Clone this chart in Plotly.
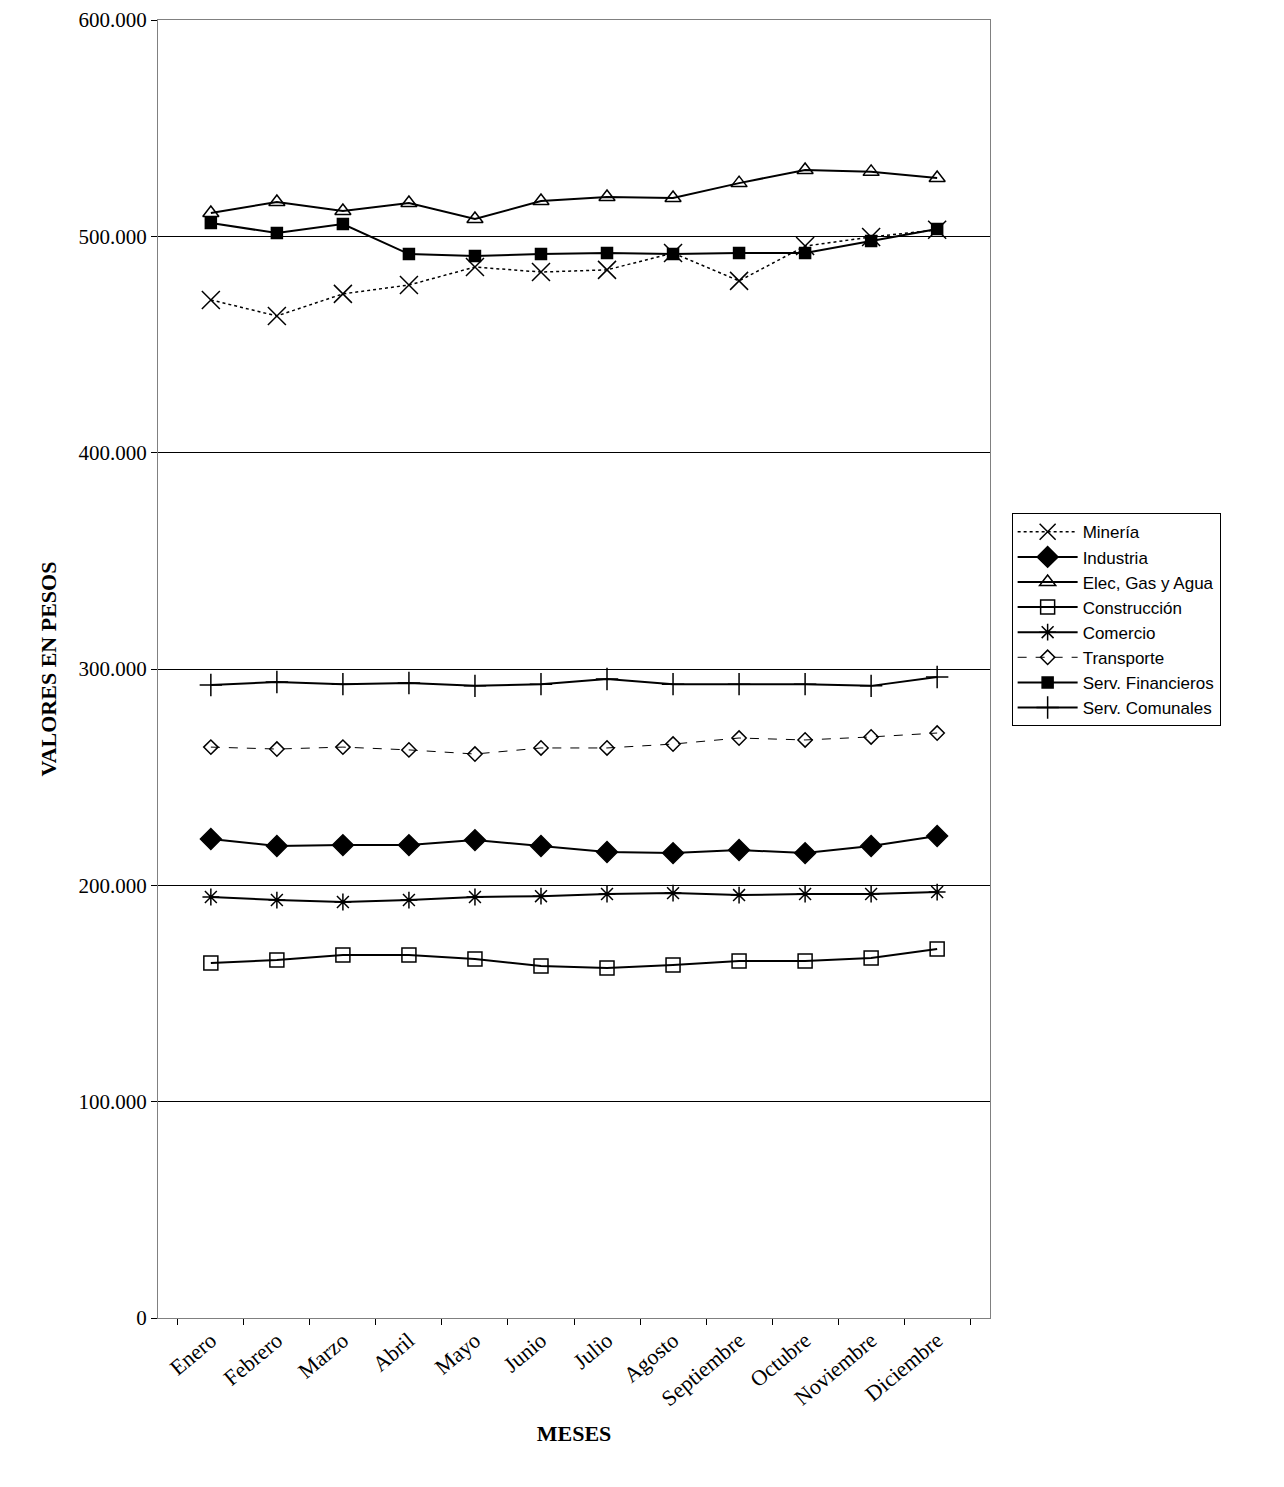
import plotly.graph_objects as go

meses = ["Enero", "Febrero", "Marzo", "Abril", "Mayo", "Junio", "Julio", "Agosto",
         "Septiembre", "Octubre", "Noviembre", "Diciembre"]

mineria = [470600, 463200, 473400, 477500, 485800, 483500, 484500, 492300, 479400, 495500, 499700, 503000]
industria = [221400, 218200, 218600, 218600, 220900, 218200, 215400, 214900, 216300, 214900, 218200, 222800]
elec = [510800, 515900, 511700, 515400, 508000, 516300, 518200, 517700, 524600, 530700, 529800, 527000]
construccion = [164100, 165500, 167800, 167800, 166000, 162700, 161800, 163200, 165000, 165000, 166400, 170600]
comercio = [194600, 193200, 192300, 193200, 194600, 195000, 196000, 196400, 195500, 196000, 196000, 196900]
transporte = [263900, 263000, 263900, 262600, 260700, 263500, 263500, 265300, 268100, 267200, 268600, 270400]
serv_fin = [506200, 501500, 505700, 491800, 490900, 491800, 492300, 491800, 492300, 492300, 497800, 503400]
serv_com = [292600, 294000, 293000, 293500, 292200, 293000, 295400, 293000, 293000, 293000, 292200, 296300]

series = [
    ("Minería", mineria, "x-thin-open", 18, "dot", 1.5),
    ("Industria", industria, "diamond", 16, "solid", 2),
    ("Elec, Gas y Agua", elec, "triangle-up-open", 14, "solid", 2),
    ("Construcción", construccion, "square-open", 14, "solid", 2),
    ("Comercio", comercio, "asterisk-open", 14, "solid", 2),
    ("Transporte", transporte, "diamond-open", 11, "dash", 1),
    ("Serv. Financieros", serv_fin, "square", 11, "solid", 2),
    ("Serv. Comunales", serv_com, "cross-thin-open", 16, "solid", 2),
]

fig = go.Figure()
for name, vals, sym, size, dash, w in series:
    fig.add_trace(go.Scatter(
        x=meses, y=vals, name=name, mode="lines+markers",
        line=dict(color="black", width=w, dash=dash),
        marker=dict(symbol=sym, size=size, color="black",
                    line=dict(color="black", width=1.5)),
    ))

fig.update_layout(
    width=1284, height=1487,
    margin=dict(l=150, r=302, t=12, b=177),
    plot_bgcolor="white", paper_bgcolor="white",
    font=dict(family="Liberation Serif, Times New Roman, serif", size=22, color="black"),
    legend=dict(x=1.026, y=0.62, xanchor="left", yanchor="top",
                bordercolor="black", borderwidth=1,
                font=dict(family="Liberation Sans, Arial, sans-serif", size=17),
                tracegroupgap=0, itemwidth=60),
    separators=",.",
)
fig.update_xaxes(
    automargin=False,
    showline=True, linecolor="#808080", linewidth=1, mirror=True,
    ticks="outside", ticklen=6, tickcolor="black", tickangle=-40,
    tickson="boundaries", showgrid=False,
    title=dict(text="<b>MESES</b>", font=dict(size=22), standoff=15),
)
fig.update_yaxes(
    automargin=False,
    range=[0, 600000], dtick=100000, tickformat=",.0f", tickfont=dict(size=21),
    showline=True, linecolor="#808080", linewidth=1, mirror=True,
    gridcolor="black", gridwidth=1, ticks="outside", ticklen=6, tickcolor="black",
    title=dict(text="<b>VALORES EN PESOS</b>", font=dict(size=22), standoff=15),
)
fig.write_html("out.html")
